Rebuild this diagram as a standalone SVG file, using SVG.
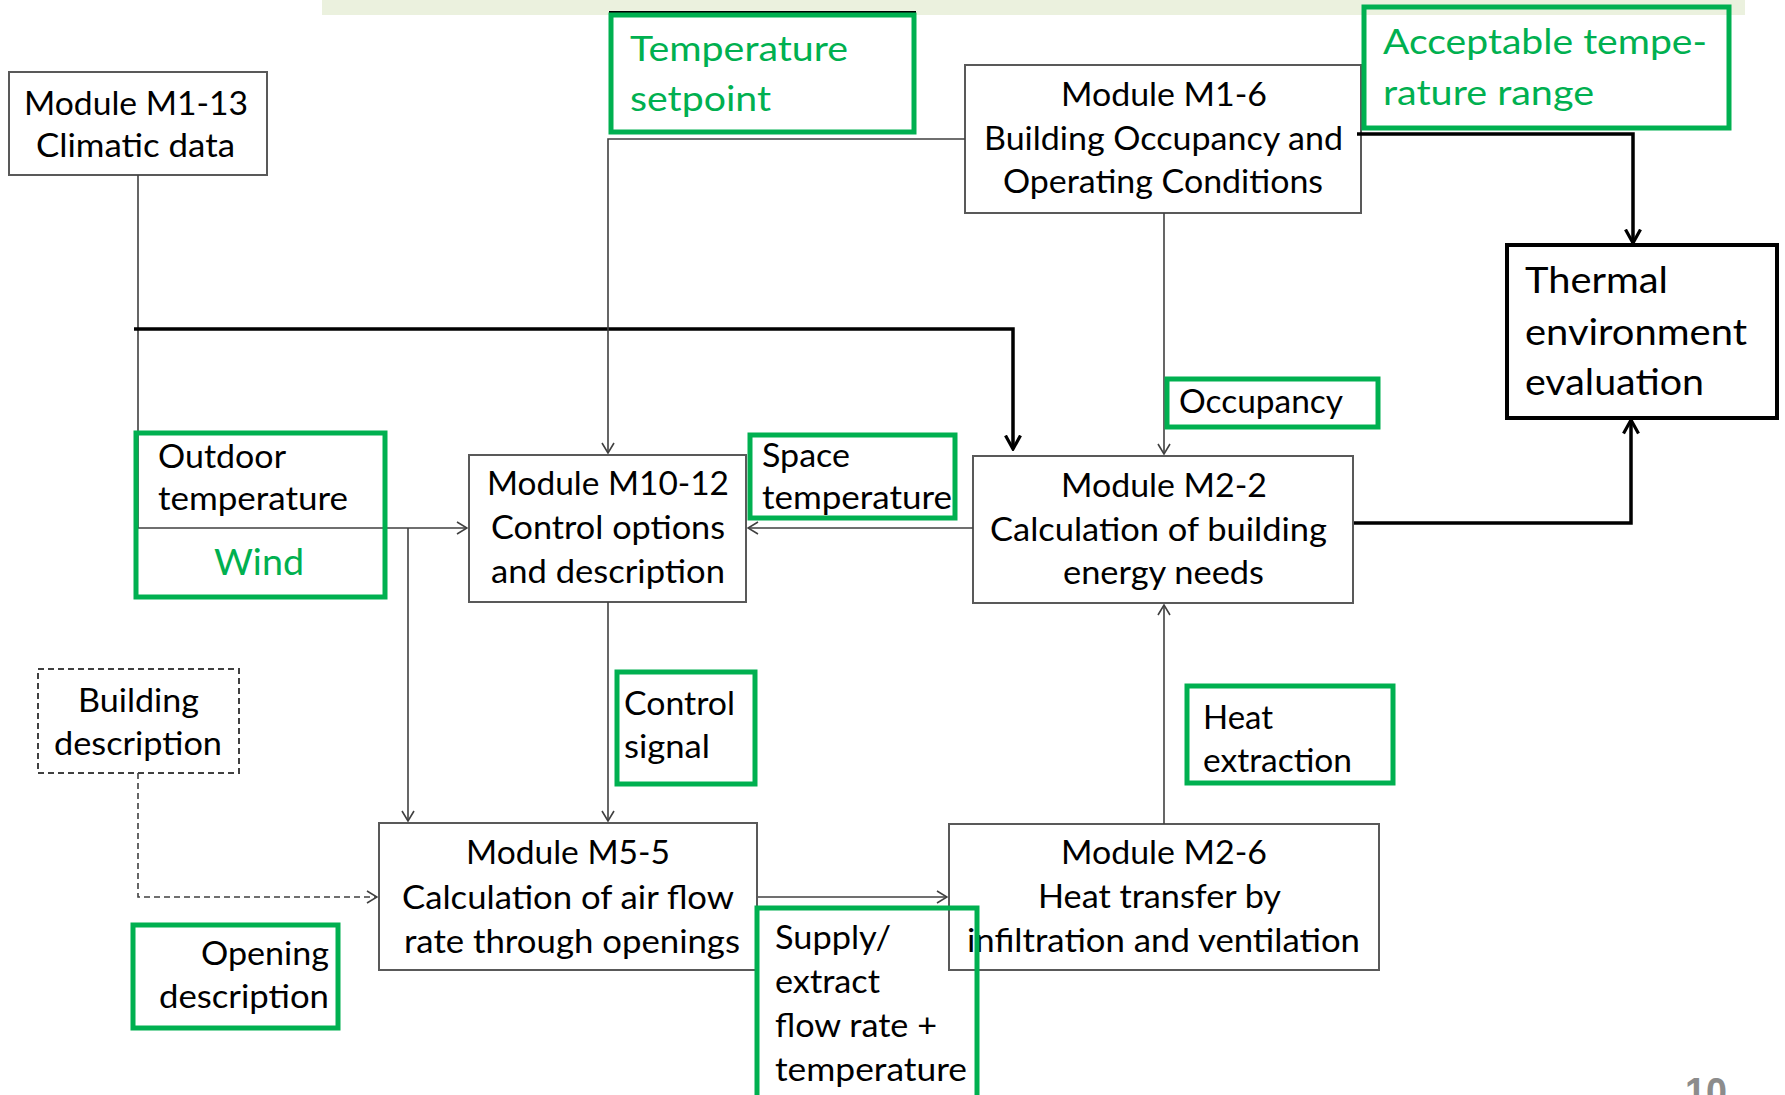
<svg xmlns="http://www.w3.org/2000/svg" width="1785" height="1095" viewBox="0 0 1785 1095">
<style>
text{font-family:Lato,"Open Sans","Liberation Sans",sans-serif;}
.t{font-size:32px;fill:#000;}
.g{font-size:35px;fill:#00B050;}
.big{font-size:37px;fill:#000;}
.box{fill:#fff;stroke:#595959;stroke-width:2;}
.gbox{fill:none;stroke:#00B050;stroke-width:5;}
.ln{fill:none;stroke:#404040;stroke-width:1.6;}
.thick{fill:none;stroke:#000;stroke-width:3.5;}
</style>
<defs>
<marker id="a" markerUnits="userSpaceOnUse" viewBox="0 0 12 14" refX="11" refY="7" markerWidth="12" markerHeight="14" orient="auto">
<path d="M1,1 L11,7 L1,13" fill="none" stroke="#404040" stroke-width="1.6"/>
</marker>
<marker id="b" markerUnits="userSpaceOnUse" viewBox="0 0 16 18" refX="14.5" refY="9" markerWidth="16" markerHeight="18" orient="auto">
<path d="M1,1.5 L14.5,9 L1,16.5" fill="none" stroke="#000" stroke-width="3.2"/>
</marker>
</defs>
<rect x="322" y="0" width="1423" height="15" fill="#EBF1DE"/>

<g id="m1-13">
<rect class="box" x="9" y="72" width="258" height="103"/>
<text class="t" x="24" y="115" textLength="224" lengthAdjust="spacingAndGlyphs">Module M1-13</text>
<text class="t" x="36" y="157" textLength="199" lengthAdjust="spacingAndGlyphs">Climatic data</text>
</g>
<g id="m1-6">
<rect class="box" x="965" y="65" width="396" height="148"/>
<text class="t" x="1061" y="106" textLength="206" lengthAdjust="spacingAndGlyphs">Module M1-6</text>
<text class="t" x="984" y="150" textLength="359" lengthAdjust="spacingAndGlyphs">Building Occupancy and</text>
<text class="t" x="1003" y="193" textLength="320" lengthAdjust="spacingAndGlyphs">Operating Conditions</text>
</g>
<g id="thermal">
<rect x="1507" y="245" width="270" height="173" fill="#fff" stroke="#000" stroke-width="4"/>
<text class="big" x="1525" y="293" textLength="143" lengthAdjust="spacingAndGlyphs">Thermal</text>
<text class="big" x="1525" y="345" textLength="222" lengthAdjust="spacingAndGlyphs">environment</text>
<text class="big" x="1525" y="395" textLength="179" lengthAdjust="spacingAndGlyphs">evaluation</text>
</g>
<g id="m10-12">
<rect class="box" x="469" y="455" width="277" height="147"/>
<text class="t" x="487" y="495" textLength="242" lengthAdjust="spacingAndGlyphs">Module M10-12</text>
<text class="t" x="491" y="539" textLength="234" lengthAdjust="spacingAndGlyphs">Control options</text>
<text class="t" x="491" y="583" textLength="234" lengthAdjust="spacingAndGlyphs">and description</text>
</g>
<g id="m2-2">
<rect class="box" x="973" y="456" width="380" height="147"/>
<text class="t" x="1061" y="497" textLength="206" lengthAdjust="spacingAndGlyphs">Module M2-2</text>
<text class="t" x="990" y="541" textLength="337" lengthAdjust="spacingAndGlyphs">Calculation of building</text>
<text class="t" x="1063" y="584" textLength="201" lengthAdjust="spacingAndGlyphs">energy needs</text>
</g>
<g id="building">
<rect x="38" y="669" width="201" height="104" fill="#fff" stroke="#404040" stroke-width="2" stroke-dasharray="6,4"/>
<text class="t" x="78" y="712" textLength="121" lengthAdjust="spacingAndGlyphs">Building</text>
<text class="t" x="54" y="755" textLength="168" lengthAdjust="spacingAndGlyphs">description</text>
</g>
<g id="m5-5">
<rect class="box" x="379" y="823" width="378" height="147"/>
<text class="t" x="466" y="864" textLength="204" lengthAdjust="spacingAndGlyphs">Module M5-5</text>
<text class="t" x="402" y="909" textLength="332" lengthAdjust="spacingAndGlyphs">Calculation of air flow</text>
<text class="t" x="404" y="953" textLength="336" lengthAdjust="spacingAndGlyphs">rate through openings</text>
</g>
<g id="m2-6">
<rect class="box" x="949" y="824" width="430" height="146"/>
<text class="t" x="1061" y="864" textLength="206" lengthAdjust="spacingAndGlyphs">Module M2-6</text>
<text class="t" x="1038" y="908" textLength="243" lengthAdjust="spacingAndGlyphs">Heat transfer by</text>
<text class="t" x="967" y="952" textLength="393" lengthAdjust="spacingAndGlyphs">infiltration and ventilation</text>
</g>

<g id="connectors">
<path class="ln" d="M138,175 V528 H467" marker-end="url(#a)"/>
<path class="ln" d="M408,528 V821" marker-end="url(#a)"/>
<path class="thick" d="M134,329 H1013 V449" marker-end="url(#b)"/>
<path class="ln" d="M965,139 H608 V453" marker-end="url(#a)"/>
<path class="ln" d="M1164,213 V454" marker-end="url(#a)"/>
<path class="thick" d="M1357,134 H1633 V243" marker-end="url(#b)"/>
<path class="thick" d="M1354,523 H1631 V420" marker-end="url(#b)"/>
<path class="ln" d="M973,528 H748" marker-end="url(#a)"/>
<path class="ln" d="M608,602 V821" marker-end="url(#a)"/>
<path class="ln" d="M138,773 V897 H377" stroke-dasharray="6,4" marker-end="url(#a)"/>
<path class="ln" d="M758,897 H947" stroke-width="2" marker-end="url(#a)"/>
<path class="ln" d="M1164,824 V605" marker-end="url(#a)"/>
</g>

<g id="temp-setpoint">
<line x1="609" y1="12" x2="916" y2="12" stroke="#000" stroke-width="2"/>
<rect class="gbox" x="611" y="15" width="303" height="117"/>
<text class="g" x="630" y="61" textLength="218" lengthAdjust="spacingAndGlyphs">Temperature</text>
<text class="g" x="630" y="111" textLength="141" lengthAdjust="spacingAndGlyphs">setpoint</text>
</g>
<g id="acceptable">
<rect class="gbox" x="1364" y="7" width="365" height="121"/>
<text class="g" x="1383" y="54" textLength="324" lengthAdjust="spacingAndGlyphs">Acceptable tempe-</text>
<text class="g" x="1383" y="105" textLength="211" lengthAdjust="spacingAndGlyphs">rature range</text>
</g>
<g id="occupancy">
<rect class="gbox" x="1167" y="379" width="211" height="48"/>
<text class="t" x="1179" y="413" textLength="164" lengthAdjust="spacingAndGlyphs">Occupancy</text>
</g>
<g id="outdoor">
<rect class="gbox" x="136" y="433" width="249" height="164"/>
<text class="t" x="158" y="468" textLength="128" lengthAdjust="spacingAndGlyphs">Outdoor</text>
<text class="t" x="158" y="510" textLength="190" lengthAdjust="spacingAndGlyphs">temperature</text>
<text class="big" x="214" y="575" style="fill:#00B050" textLength="90" lengthAdjust="spacingAndGlyphs">Wind</text>
</g>
<g id="space-temp">
<rect class="gbox" x="750" y="435" width="205" height="83"/>
<text class="t" x="762" y="467" textLength="88" lengthAdjust="spacingAndGlyphs">Space</text>
<text class="t" x="762" y="509" textLength="190" lengthAdjust="spacingAndGlyphs">temperature</text>
</g>
<g id="control-signal">
<rect class="gbox" x="617" y="672" width="138" height="112"/>
<text class="t" x="624" y="715" textLength="111" lengthAdjust="spacingAndGlyphs">Control</text>
<text class="t" x="624" y="758" textLength="86" lengthAdjust="spacingAndGlyphs">signal</text>
</g>
<g id="heat-extraction">
<rect class="gbox" x="1187" y="686" width="206" height="97"/>
<text class="t" x="1203" y="729" textLength="70" lengthAdjust="spacingAndGlyphs">Heat</text>
<text class="t" x="1203" y="772" textLength="149" lengthAdjust="spacingAndGlyphs">extraction</text>
</g>
<g id="opening">
<rect class="gbox" x="133" y="925" width="205" height="103"/>
<text class="t" x="201" y="965" textLength="128" lengthAdjust="spacingAndGlyphs">Opening</text>
<text class="t" x="159" y="1008" textLength="170" lengthAdjust="spacingAndGlyphs">description</text>
</g>
<g id="supply">
<rect class="gbox" x="757" y="908" width="220" height="200"/>
<text class="t" x="775" y="949" textLength="116" lengthAdjust="spacingAndGlyphs">Supply/</text>
<text class="t" x="775" y="993" textLength="105" lengthAdjust="spacingAndGlyphs">extract</text>
<text class="t" x="775" y="1037" textLength="162" lengthAdjust="spacingAndGlyphs">flow rate +</text>
<text class="t" x="775" y="1081" textLength="192" lengthAdjust="spacingAndGlyphs">temperature</text>
</g>
<text x="1685" y="1106" style="font-family:'Liberation Sans',sans-serif;font-size:40px;font-weight:bold;fill:#8C8C8C" textLength="42" lengthAdjust="spacingAndGlyphs">10</text>
</svg>
